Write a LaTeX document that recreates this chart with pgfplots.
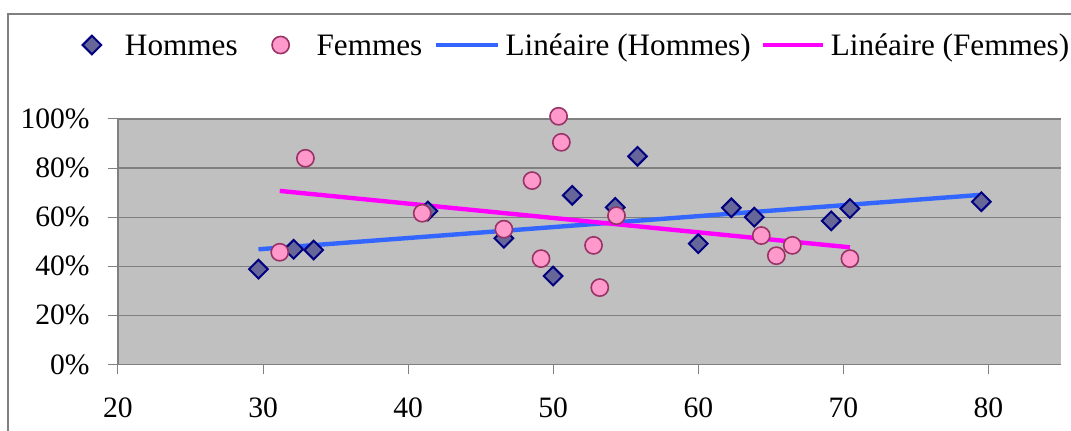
\documentclass[border=0pt]{standalone}
\usepackage{fontspec}
\setmainfont{Liberation Serif}
\usepackage{pgfplots}
\pgfplotsset{compat=1.18}
\definecolor{hfill}{HTML}{666699}
\definecolor{hdraw}{HTML}{000080}
\definecolor{ffill}{HTML}{FF99CC}
\definecolor{fdraw}{HTML}{993366}
\definecolor{lineh}{HTML}{3366FF}
\definecolor{linef}{HTML}{FF00FF}
\definecolor{bgc}{HTML}{C0C0C0}
\definecolor{gridc}{HTML}{808080}
\pgfplotsset{
  legH/.style={legend image code/.code={\path[draw=none,fill=none] (0pt,0pt) -- (21.5pt,0pt); \draw[##1] plot coordinates {(5pt,0pt)};}},
  legF/.style={legend image code/.code={\path[draw=none,fill=none] (0pt,0pt) -- (22.5pt,0pt); \draw[##1] plot coordinates {(4.5pt,0pt)};}},
  legLH/.style={legend image code/.code={\draw[##1] (0pt,0pt) -- (31pt,0pt); \path[draw=none,fill=none] (35pt,0pt);}},
  legLF/.style={legend image code/.code={\draw[##1] (0pt,0pt) -- (30pt,0pt); \path[draw=none,fill=none] (34pt,0pt);}},
}
\begin{document}
\begin{tikzpicture}
\path[use as bounding box] (-59pt,-33.3pt) rectangle (476.5pt,182.2pt);
\draw[gridc, line width=0.75pt] (-55pt,-40pt) -- (-55pt,175.2pt) -- (485pt,175.2pt);
\begin{axis}[
  at={(0,0)}, anchor=south west,
  scale only axis, width=471.5pt, height=122.7pt,
  xmin=20, xmax=85, ymin=0, ymax=100,
  xtick={20,30,...,80}, ytick={0,20,...,100},
  yticklabel={\pgfmathprintnumber{\tick}\%},
  /pgf/number format/assume math mode=true,
  axis x line*=bottom, axis y line*=left,
  axis line style={gridc, line width=0.6pt},
  tick align=outside, major tick length=5pt,
  tick style={gridc, line width=0.5pt},
  ymajorgrids, grid style={gridc, line width=0.6pt},
  axis background/.style={fill=bgc},
  clip=false,
  tick label style={font=\fontsize{14.8}{17}\selectfont, inner sep=0pt},
  yticklabel style={anchor=east, xshift=-9pt},
  xticklabel style={anchor=north, yshift=-11.5pt},
  legend style={at={(axis description cs:-0.0382,1.3015)}, anchor=west,
    draw=none, fill=none, inner sep=0pt, outer sep=0pt,
    font=\fontsize{15.6}{18}\selectfont, legend columns=-1, column sep=0pt,
    nodes={inner sep=0pt, text height=10.33pt, text depth=0pt}},
  legend cell align=left,
]
\addplot[only marks, mark=square*, mark size=3.3pt,
  mark options={rotate=45, fill=hfill, draw=hdraw, line width=1pt}, legH]
coordinates {
(29.68,38.8) (32.11,46.9) (33.49,46.6) (41.36,62.5) (46.6,51.4)
(49.99,36.0) (51.31,68.9) (54.27,64.0) (55.81,84.8) (60.0,49.2)
(62.28,63.8) (63.86,60.0) (69.16,58.5) (70.45,63.5) (79.51,66.3)};
\addlegendentry{Hommes\kern17pt}
\addplot[only marks, mark=*, mark size=4.3pt,
  mark options={fill=ffill, draw=fdraw, line width=0.8pt}, legF]
coordinates {
(31.15,45.7) (32.92,84.0) (40.97,61.6) (46.6,55.1) (48.54,74.9)
(49.16,43.1) (50.37,101.1) (50.56,90.5) (52.78,48.5) (53.21,31.3)
(54.36,60.6) (64.34,52.5) (65.38,44.3) (66.48,48.5) (70.45,43.1)};
\addlegendentry{Femmes\kern5.5pt}
\addplot[lineh, line width=2.2pt, no marks, legLH]
coordinates {(29.68,46.9) (79.51,69.1)};
\addlegendentry{Linéaire (Hommes)\kern5pt}
\addplot[linef, line width=2.2pt, no marks, legLF]
coordinates {(31.15,70.7) (70.45,47.7)};
\addlegendentry{Linéaire (Femmes)}
\end{axis}
\end{tikzpicture}
\end{document}
